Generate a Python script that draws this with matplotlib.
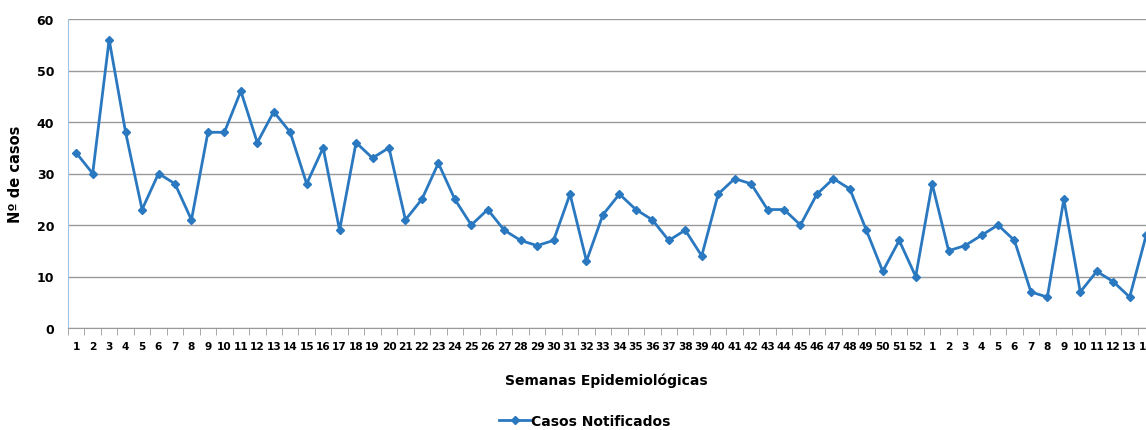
import matplotlib.pyplot as plt
import numpy as np

# week labels: 52 weeks of first year + 14 of the next
weeks = [str(w) for w in range(1, 53)] + [str(w) for w in range(1, 15)]
casos = [34, 30, 56, 38, 23, 30, 28, 21, 38, 38, 46, 36, 42, 38, 28, 35, 19, 36,
         33, 35, 21, 25, 32, 25, 20, 23, 19, 17, 16, 17, 26, 13, 22, 26, 23, 21,
         17, 19, 14, 26, 29, 28, 23, 23, 20, 26, 29, 27, 19, 11, 17, 10,
         28, 15, 16, 18, 20, 17, 7, 6, 25, 7, 11, 9, 6, 18]
yticks = [0, 10, 20, 30, 40, 50, 60]

blue = "#2A78C0"
W, H = 1146, 431

fig = plt.figure(figsize=(W / 100, H / 100), dpi=100)
# axes runs past the right edge of the figure, as in the original
x0, x1 = 68, 68 + len(casos) * 16.46
y0, y1 = 329, 20
ax = fig.add_axes([x0 / W, 1 - y0 / H, (x1 - x0) / W, (y0 - y1) / H])

x = np.arange(1, len(casos) + 1)
ax.plot(x, casos, "-D", color=blue, lw=2, ms=4.5, mec=blue,
        label="Casos Notificados", clip_on=False, zorder=3)

ax.set_xlim(0.5, len(casos) + 0.5)
ax.set_ylim(0, 60)
ax.set_yticks(yticks)
ax.set_yticklabels([str(v) for v in yticks], fontsize=9, fontweight="bold")
ax.yaxis.grid(True, color="#9a9a9a", lw=1)
ax.set_axisbelow(True)

ax.set_xticks(x)
ax.set_xticklabels(weeks, fontsize=7.6, fontweight="bold")
ax.set_xticks(np.arange(0.5, len(casos) + 1), minor=True)
ax.tick_params(axis="x", which="major", length=0, pad=9)
ax.tick_params(axis="x", which="minor", length=5, color="#9a9a9a", direction="out")
ax.tick_params(axis="y", length=0, pad=10)

for s in ("top", "right"):
    ax.spines[s].set_visible(False)
ax.spines["left"].set_color("#9dc3e6")
ax.spines["bottom"].set_color("#9a9a9a")

ax.set_ylabel("Nº de casos", fontsize=10.5, fontweight="bold", labelpad=10)
fig.text(606 / W, 1 - 381 / H, "Semanas Epidemiológicas", ha="center", va="center",
         fontsize=10, fontweight="bold")

handles, labels = ax.get_legend_handles_labels()
fig.legend(handles, labels, loc="center", bbox_to_anchor=(585 / W, 1 - 422 / H),
           frameon=False, prop={"size": 10, "weight": "bold"},
           handlelength=2.2, handletextpad=0.1)

fig.savefig("out.png", dpi=100)
